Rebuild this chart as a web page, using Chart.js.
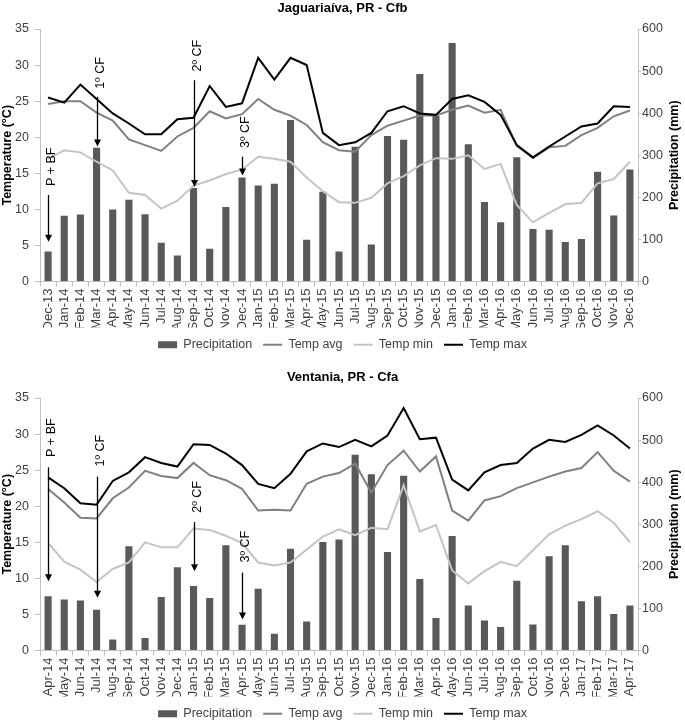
<!DOCTYPE html>
<html>
<head>
<meta charset="utf-8">
<script src="https://cdn.jsdelivr.net/npm/chart.js@4.4.1/dist/chart.umd.min.js"></script>
<style>
  html, body { margin: 0; padding: 0; background: #fff; overflow: hidden; }
  #wrap { position: relative; width: 685px; height: 722px; }
  canvas { position: absolute; left: 0; }
  #c1 { top: 0; }
  #c2 { top: 369px; }
</style>
</head>
<body>
<div id="wrap">
  <canvas id="c1" width="685" height="361"></canvas>
  <canvas id="c2" width="685" height="361"></canvas>
</div>
<script>
// Jaguariaíva (Dec-13 .. Dec-16)
const months1 = ['Dec-13','Jan-14','Feb-14','Mar-14','Apr-14','May-14','Jun-14','Jul-14','Aug-14','Sep-14','Oct-14','Nov-14',
  'Dec-14','Jan-15','Feb-15','Mar-15','Apr-15','May-15','Jun-15','Jul-15','Aug-15','Sep-15','Oct-15','Nov-15',
  'Dec-15','Jan-16','Feb-16','Mar-16','Apr-16','May-16','Jun-16','Jul-16','Aug-16','Sep-16','Oct-16','Nov-16','Dec-16'];
const precip1 = [71,156,159,318,171,194,160,92,62,222,78,177,247,228,232,384,99,213,71,320,88,346,337,493,394,567,326,189,141,295,125,123,94,101,261,157,266];
const tavg1 = [24.6,25.0,25.0,23.4,22.3,19.7,18.9,18.1,20.1,21.3,23.6,22.6,23.2,25.3,23.8,23.0,21.7,19.3,18.2,18.0,20.3,21.6,22.3,23.0,23.0,23.8,24.4,23.4,23.8,18.8,17.1,18.6,18.8,20.3,21.3,22.9,23.7];
const tmin1 = [17.0,18.2,17.9,16.6,15.4,12.3,12.0,10.1,11.2,13.3,14.0,14.9,15.5,17.3,17.0,16.6,14.4,12.5,11.0,10.9,11.6,13.6,14.6,16.1,17.1,17.0,17.5,15.6,16.3,10.6,8.2,9.5,10.7,10.9,13.6,14.2,16.6];
const tmax1 = [25.5,24.8,27.3,25.3,23.3,21.9,20.4,20.4,22.5,22.7,27.1,24.2,24.7,31.0,28.0,31.0,30.0,20.6,18.9,19.3,20.6,23.6,24.3,23.3,23.1,25.3,25.8,24.9,23.1,18.9,17.2,18.7,20.1,21.5,21.9,24.3,24.2];

// Ventania (Apr-14 .. Apr-17)
const months2 = ['Apr-14','May-14','Jun-14','Jul-14','Aug-14','Sep-14','Oct-14','Nov-14','Dec-14','Jan-15','Feb-15','Mar-15',
  'Apr-15','May-15','Jun-15','Jul-15','Aug-15','Sep-15','Oct-15','Nov-15','Dec-15','Jan-16','Feb-16','Mar-16',
  'Apr-16','May-16','Jun-16','Jul-16','Aug-16','Sep-16','Oct-16','Nov-16','Dec-16','Jan-17','Feb-17','Mar-17','Apr-17'];
const precip2 = [129,121,119,97,26,248,30,127,198,153,125,250,61,147,40,242,69,258,264,465,419,234,415,170,77,272,107,71,56,166,62,224,250,117,129,87,107];
const tavg2 = [22.4,20.5,18.4,18.3,21.1,22.6,24.9,24.2,23.9,26.0,24.3,23.6,22.4,19.4,19.5,19.4,23.1,24.1,24.6,25.9,21.9,25.7,27.7,24.8,26.9,19.4,18.0,20.8,21.4,22.5,23.3,24.1,24.8,25.3,27.5,24.9,23.4];
const tmin2 = [14.9,12.3,11.2,9.5,11.3,12.2,15.0,14.3,14.3,16.9,16.7,15.9,14.9,12.2,11.8,12.2,14.0,15.8,16.8,16.0,17.0,16.8,22.9,16.5,17.4,11.1,9.3,11.0,12.3,11.7,13.9,16.1,17.3,18.2,19.3,17.7,15.0];
const tmax2 = [24.0,22.5,20.4,20.2,23.5,24.7,26.8,26.0,25.5,28.6,28.5,27.3,25.7,23.1,22.5,24.5,27.6,28.7,28.2,29.2,28.3,29.8,33.6,29.3,29.5,23.7,22.2,24.7,25.7,26.0,28.0,29.2,28.9,29.9,31.2,29.8,28.0];

// management marks: month index, text centre and arrow start/end in °C
const notes1 = [
  { text: 'P + BF', at: 0, textY: 15.9, from: 12.0, to: 5.5 },
  { text: '1º CF', at: 3, textY: 28.9, from: 25.6, to: 18.7 },
  { text: '2º CF', at: 9, textY: 31.3, from: 27.9, to: 13.1 },
  { text: '3º CF', at: 12, textY: 20.7, from: 17.3, to: 14.7 }
];
const notes2 = [
  { text: 'P + BF', at: 0, textY: 29.5, from: 25.4, to: 9.6 },
  { text: '1º CF', at: 3, textY: 27.7, from: 24.1, to: 7.3 },
  { text: '2º CF', at: 9, textY: 21.3, from: 17.8, to: 11.0 },
  { text: '3º CF', at: 12, textY: 14.4, from: 10.8, to: 4.3 }
];

const FONT = "'Liberation Sans', Arial, sans-serif";
const axisColor = '#bfbfbf';
const tickColor = '#404040';

Chart.defaults.font.family = FONT;
Chart.defaults.color = tickColor;

// arrows + vertical labels, and the right axis title (reads bottom to top)
const notesPlugin = {
  id: 'notes',
  afterDatasetsDraw(chart, args, opts) {
    const {ctx, scales: {x, y}, chartArea} = chart;
    ctx.save();
    ctx.strokeStyle = '#000';
    ctx.fillStyle = '#000';
    ctx.lineWidth = 1.3;
    opts.items.forEach(n => {
      const px = Math.round(x.getPixelForValue(n.at)) + 0.5;
      const y0 = y.getPixelForValue(n.from);
      const y1 = y.getPixelForValue(n.to);
      ctx.beginPath();
      ctx.moveTo(px, y0);
      ctx.lineTo(px, y1 - 5);
      ctx.stroke();
      ctx.beginPath();
      ctx.moveTo(px - 3.5, y1 - 7);
      ctx.lineTo(px + 3.5, y1 - 7);
      ctx.lineTo(px, y1);
      ctx.closePath();
      ctx.fill();

      ctx.save();
      ctx.translate(px + 3, y.getPixelForValue(n.textY));
      ctx.rotate(-Math.PI / 2);
      ctx.font = '12.5px ' + FONT;
      ctx.textAlign = 'center';
      ctx.textBaseline = 'middle';
      ctx.fillText(n.text, 0, 0);
      ctx.restore();
    });

    ctx.save();
    ctx.translate(675, (chartArea.top + chartArea.bottom) / 2);
    ctx.rotate(-Math.PI / 2);
    ctx.font = 'bold 12.5px ' + FONT;
    ctx.textAlign = 'center';
    ctx.textBaseline = 'middle';
    ctx.fillText('Precipitation (mm)', 0, 0);
    ctx.restore();
    ctx.restore();
  }
};

function makeChart(id, title, months, precip, tavg, tmin, tmax, notes) {
  return new Chart(document.getElementById(id), {
    type: 'bar',
    data: {
      labels: months,
      datasets: [
        { label: 'Precipitation', data: precip, yAxisID: 'y1', backgroundColor: '#595959',
          barPercentage: 0.44, categoryPercentage: 1, order: 4 },
        { type: 'line', label: 'Temp avg', data: tavg, yAxisID: 'y', borderColor: '#808080',
          borderWidth: 2, pointRadius: 0, tension: 0, order: 3 },
        { type: 'line', label: 'Temp min', data: tmin, yAxisID: 'y', borderColor: '#c4c4c4',
          borderWidth: 2, pointRadius: 0, tension: 0, order: 2 },
        { type: 'line', label: 'Temp max', data: tmax, yAxisID: 'y', borderColor: '#000000',
          borderWidth: 2, pointRadius: 0, tension: 0, order: 1 }
      ]
    },
    options: {
      responsive: false,
      animation: false,
      devicePixelRatio: 1,
      layout: { padding: 0 },
      plugins: {
        title: {
          display: true,
          text: title,
          color: '#000',
          font: { size: 13, weight: 'bold' },
          padding: { top: 0.5, bottom: 12.9 }
        },
        legend: {
          position: 'bottom',
          labels: {
            usePointStyle: true,
            pointStyleWidth: 19,
            boxHeight: 7,
            padding: 11,
            color: tickColor,
            font: { size: 12.5 },
            sort: (a, b) => a.datasetIndex - b.datasetIndex,
            generateLabels: chart => Chart.defaults.plugins.legend.labels.generateLabels(chart).map(l => {
              l.pointStyle = l.datasetIndex === 0 ? 'rect' : 'line';
              return l;
            })
          }
        },
        tooltip: { enabled: false },
        notes: { items: notes }
      },
      scales: {
        x: {
          offset: true,
          grid: { display: true, drawOnChartArea: false, drawTicks: true, tickLength: 5, color: axisColor, offset: true },
          border: { color: axisColor },
          ticks: { minRotation: 90, maxRotation: 90, autoSkip: false, padding: 2, color: tickColor, font: { size: 13 } },
          afterFit: s => { s.height = 46; }
        },
        y: {
          position: 'left',
          min: 0,
          max: 35,
          ticks: { stepSize: 5, padding: 6, color: tickColor, font: { size: 12.5 } },
          grid: { drawOnChartArea: false, tickLength: 5, color: axisColor },
          border: { color: axisColor },
          title: { display: true, text: 'Temperature (°C)', color: '#000', font: { size: 12.5, weight: 'bold' }, padding: 0 },
          afterFit: s => { s.width = 40; }
        },
        y1: {
          position: 'right',
          min: 0,
          max: 600,
          ticks: { stepSize: 100, padding: 1, color: tickColor, font: { size: 12.5 } },
          grid: { drawOnChartArea: false, tickLength: 3, color: axisColor },
          border: { color: axisColor },
          afterFit: s => { s.width = 47; }
        }
      }
    },
    plugins: [notesPlugin]
  });
}

makeChart('c1', 'Jaguariaíva, PR - Cfb', months1, precip1, tavg1, tmin1, tmax1, notes1);
makeChart('c2', 'Ventania, PR - Cfa', months2, precip2, tavg2, tmin2, tmax2, notes2);
</script>
</body>
</html>
